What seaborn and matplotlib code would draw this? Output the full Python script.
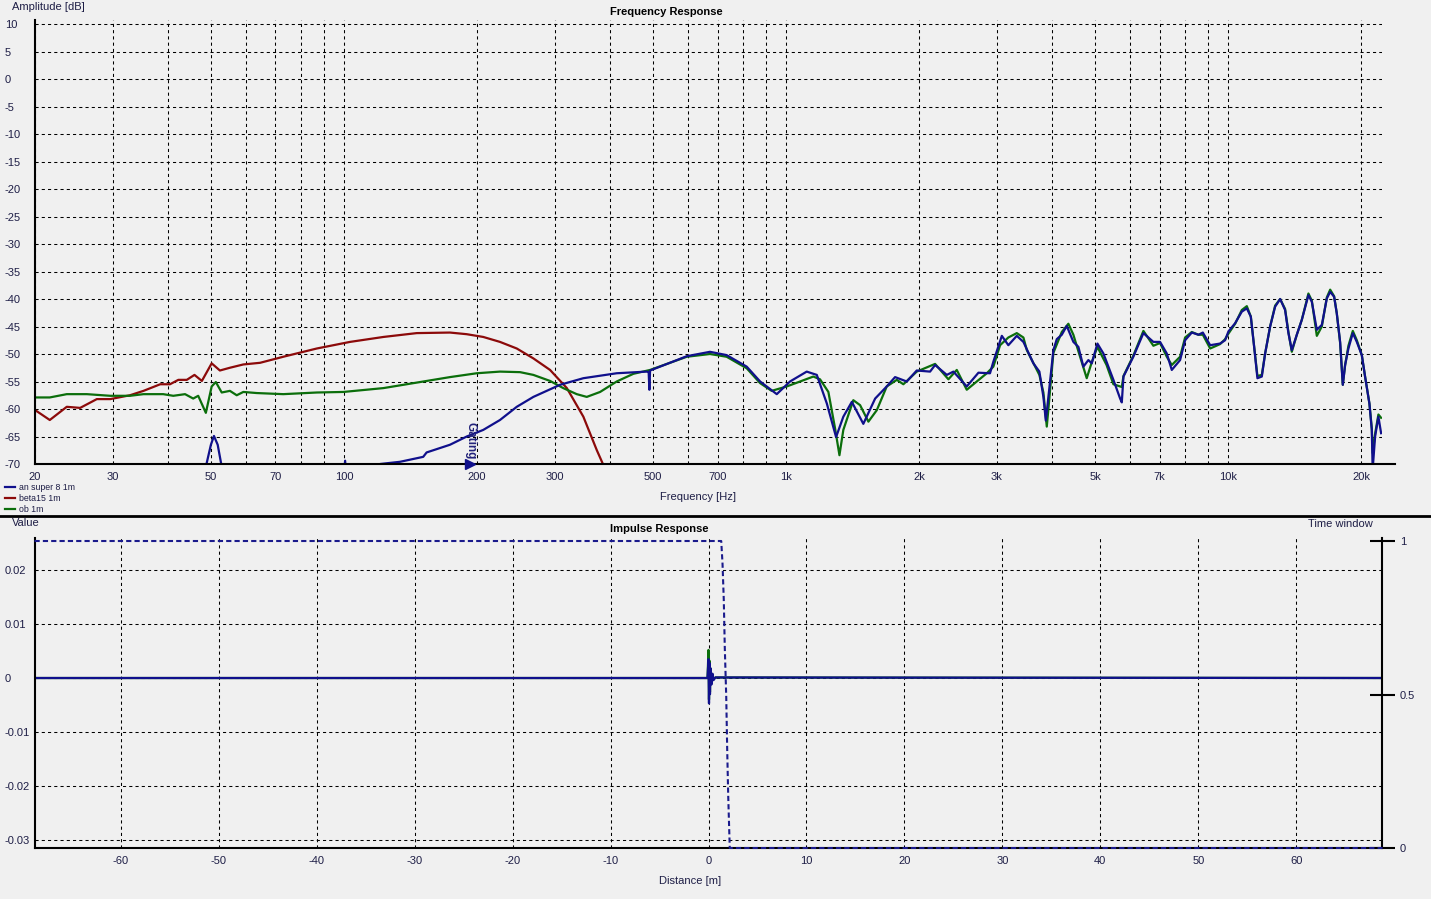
import numpy as np
import pandas as pd
import matplotlib
matplotlib.use("Agg")
import matplotlib.pyplot as plt
from matplotlib.lines import Line2D
import seaborn as sns

# ---- frequency response data (Hz, dB) ----
blue_freq = [20, 47.0, 48.7, 50.0, 50.8, 51.8, 52.9, 55, 98, 100.6, 103, 118, 120.7, 133.9, 151.1,
             153.8, 173.7, 189.6, 206.6, 225.4, 246, 268.2, 308.2, 348, 414, 484, 489, 490.8, 492.6,
             596.5, 673, 734, 815, 874, 953, 1021, 1114, 1174, 1237, 1298, 1348, 1409, 1496, 1591,
             1690, 1765, 1876, 1976, 2118, 2174, 2311, 2392, 2564, 2725, 2894, 2945, 3078, 3184,
             3327, 3444, 3628, 3743, 3822, 3870, 3923, 4026, 4098, 4206, 4316, 4468, 4586, 4707,
             4831, 4917, 5064, 5224, 5504, 5700, 5750, 5800, 6106, 6435, 6778, 7018, 7268, 7460,
             7790, 7996, 8280, 8572, 8770, 9112, 9594, 9848, 10020, 10376, 10744, 11028, 11260,
             11456, 11654, 11924, 12132, 12452, 12780, 13118, 13460, 13696, 13940, 14308, 14684,
             15200, 15472, 15880, 16300, 16730, 17024, 17378, 17620, 17930, 18182, 18402, 18722,
             19154, 19558, 20074, 20418, 20884, 21146, 21240, 21514, 21886, 22196]
blue_db = [-80, -80, -70.5, -66.5, -64.9, -66.5, -70.5, -80, -80, -69.4, -80, -80, -70.0, -69.6, -68.7,
           -67.9, -66.5, -65.0, -63.8, -62.0, -59.6, -57.8, -55.6, -54.4, -53.5, -53.2, -53.3, -56.5, -53.0,
           -50.4, -49.6, -50.2, -52.3, -55.0, -57.3, -55.0, -53.2, -53.8, -59.0, -65.1, -61.4, -58.7, -62.7, -58.1,
           -55.9, -54.2, -55.0, -53.0, -53.2, -52.0, -53.8, -53.2, -55.9, -53.4, -53.5, -51.4, -46.7, -48.4,
           -46.7, -47.8, -51.7, -53.2, -57.8, -62.1, -57.8, -49.3, -47.3, -46.5, -44.9, -47.8, -48.7, -52.3,
           -51.1, -51.7, -48.1, -49.9, -54.7, -58.1, -58.8, -54.1, -50.5, -46.2, -47.8, -47.8, -49.9, -52.9,
           -51.1, -47.5, -46.1, -46.5, -46.1, -48.4, -48.1, -47.5, -45.9, -44.4, -42.3, -41.7, -43.2,
           -48.7, -54.4, -54.1, -49.9, -45.0, -41.4, -40.0, -42.0, -46.2, -49.3, -46.5, -43.8,
           -39.3, -40.5, -45.6, -44.7, -39.9, -38.7, -39.6, -42.6, -47.8, -55.6, -52.0, -49.0,
           -46.2, -47.8, -50.2, -54.1, -59.0, -63.8, -71.0, -65.0, -61.4, -64.4]

red_freq = [20.1, 21.6, 23.6, 25.3, 27.6, 29.6, 32.8, 35.2, 38.4, 40.4, 42.2, 44.1, 45.9, 47.7, 50.2,
            52.4, 55.2, 59.2, 64.6, 72.9, 86.8, 103.2, 122.8, 146.1, 173.7, 189.6, 206.6, 225.4, 246,
            268.2, 292.6, 319.3, 348, 373.3, 386.3, 395]
red_db = [-60.3, -62.0, -59.6, -59.8, -58.2, -58.2, -57.5, -56.7, -55.5, -55.5, -54.7, -54.7, -53.8, -54.9, -51.7,
          -53.0, -52.5, -51.9, -51.6, -50.5, -49.0, -47.8, -46.9, -46.2, -46.1, -46.4, -46.9, -47.8, -49.0,
          -50.8, -52.9, -56.2, -61.4, -67.5, -70.2, -75]

green_freq = [20.1, 21.6, 23.6, 26.2, 29.6, 32.8, 35.2, 39.0, 41.1, 43.7, 45.6, 46.8, 48.7, 50.2, 51.3,
              52.9, 55.2, 57.2, 59.2, 63.5, 72.9, 86.8, 99.7, 122.8, 146.1, 173.7, 199.7, 225.4, 250.3,
              268.2, 292.6, 313.4, 336.2, 354.2, 379.7, 414, 451.6, 492.6, 596.5, 673, 734, 815, 874,
              928, 1004, 1076, 1153, 1194, 1247, 1291, 1321, 1348, 1420, 1471, 1536, 1605, 1690, 1781,
              1843, 1976, 2174, 2330, 2434, 2564, 2702, 2846, 2945, 3050, 3184, 3327, 3444, 3506, 3743,
              3822, 3890, 3923, 4026, 4206, 4353, 4468, 4586, 4790, 4917, 5064, 5311, 5504, 5750, 5800,
              6106, 6435, 6778, 7018, 7268, 7460, 7790, 7996, 8280, 8572, 8770, 9112, 9594, 9848, 10020,
              10376, 10744, 11028, 11260, 11456, 11654, 11924, 12132, 12452, 12780, 13118, 13460, 13696,
              13940, 14308, 14684, 15200, 15472, 15880, 16300, 16730, 17024, 17378, 17620, 17930, 18182,
              18402, 18722, 19154, 19558, 20074, 20418, 20884, 21146, 21240, 21514, 21886, 22196]
green_db = [-57.9, -57.9, -57.3, -57.3, -57.6, -57.6, -57.3, -57.3, -57.6, -57.3, -58.1, -57.6, -60.7, -55.9, -55.1,
            -57.0, -56.7, -57.5, -56.9, -57.1, -57.3, -57.0, -56.9, -56.2, -55.2, -54.2, -53.5, -53.2, -53.3,
            -53.8, -54.9, -56.2, -57.3, -57.8, -56.9, -55.0, -53.6, -52.9, -50.5, -50.0, -50.5, -52.6, -55.3,
            -56.7, -55.9, -55.0, -54.1, -54.6, -56.9, -63.5, -68.4, -63.8, -58.4, -59.3, -62.3, -60.2, -55.9, -54.7,
            -55.5, -53.2, -51.8, -54.6, -52.9, -56.5, -55.0, -53.5, -52.3, -48.4, -47.0, -46.2, -47.0, -49.3, -53.8,
            -57.0, -63.2, -60.0, -49.8, -46.0, -44.5, -46.5, -49.5, -54.4, -51.5, -48.7, -52.0, -55.5, -56.0, -54.0,
            -50.3, -45.8, -48.5, -48.0, -50.5, -52.0, -50.5, -47.0, -46.0, -46.5, -46.5, -49.0, -48.2, -47.3, -46.3,
            -44.5, -42.0, -41.3, -43.2, -48.7, -54.0, -53.8, -49.9, -45.0, -41.2, -40.0, -41.8, -46.0,
            -49.6, -46.5, -43.8, -39.0, -40.3, -46.7, -45.0, -39.7, -38.3, -39.5, -42.6, -48.0, -55.6,
            -52.0, -48.5, -45.8, -47.5, -50.2, -54.1, -59.0, -63.5, -68.0, -64.5, -61.0, -61.6]

series_names = ["an super 8 1m", "beta15 1m", "ob 1m"]
gating_freq = 193

freq_ticks = [20, 30, 50, 70, 100, 200, 300, 500, 700, 1000, 2000, 3000, 5000, 7000, 10000, 20000]
freq_labels = ["20", "30", "50", "70", "100", "200", "300", "500", "700", "1k", "2k", "3k", "5k", "7k", "10k", "20k"]
freq_grid = [m * d for d in (10, 100, 1000) for m in range(2, 10)] + [10000, 20000]

# ---- impulse response data (m, value) ----
imp_dist = [-68.8, -0.1, 0.0, 0.05, 0.1, 0.15, 0.2, 0.3, 0.4, 0.5, 0.7, 68.8]
imp_blue = [0, 0, 0.0035, -0.0047, 0.0028, -0.0030, 0.0018, -0.0012, 0.0008, -0.0004, 0.0001, 0]
imp_green = [0, 0, 0.0052, -0.0040, 0.0032, -0.0026, 0.0018, -0.0010, 0.0007, -0.0003, 0.0001, 0]

window_dist = [-68.8, 1.30, 1.43, 1.56, 1.66, 1.81, 1.91, 2.01, 2.11, 2.17, 68.8]
window_val = [1.0, 1.0, 0.927, 0.808, 0.656, 0.493, 0.319, 0.173, 0.064, 0.0, 0.0]

BLUE = "#10108c"
RED = "#8c0a0a"
GREEN = "#0b6e0b"
TXT = "#1e1e46"
BG = "#f0f0f0"

plt.rcParams["font.family"] = ["Liberation Sans", "DejaVu Sans"]
plt.rcParams["font.size"] = 8
plt.rcParams["axes.linewidth"] = 1.5
plt.rcParams["axes.unicode_minus"] = False

W, H = 1431, 899
fig = plt.figure(figsize=(W / 100, H / 100), dpi=100, facecolor=BG)

grid_kw = dict(color="black", linestyle=(0, (3, 3)), linewidth=0.75)

# ---------------- frequency response ----------------
ax = fig.add_axes([35 / W, 1 - 464 / H, 1347 / W, 444 / H], facecolor=BG)
df_red = pd.DataFrame({"f": red_freq, "db": red_db})
df_green = pd.DataFrame({"f": green_freq, "db": green_db})
df_blue = pd.DataFrame({"f": blue_freq, "db": blue_db})
sns.lineplot(data=df_red, x="f", y="db", ax=ax, color=RED, linewidth=1.6, sort=False, estimator=None)
sns.lineplot(data=df_green, x="f", y="db", ax=ax, color=GREEN, linewidth=1.6, sort=False, estimator=None)
sns.lineplot(data=df_blue, x="f", y="db", ax=ax, color=BLUE, linewidth=1.6, sort=False, estimator=None)
line_red, line_green, line_blue = ax.lines[:3]

ax.set_xscale("log")
ax.set_xlim(20, 22300)
ax.set_ylim(-70, 10.73)
ax.set_xticks(freq_ticks)
ax.set_xticklabels(freq_labels)
ax.set_xticks(freq_grid, minor=True)
ax.set_yticks(range(-70, 11, 5))
ax.set_yticklabels([str(v) for v in range(-70, 11, 5)])
ax.xaxis.grid(True, which="both", **grid_kw)
ax.yaxis.grid(True, **grid_kw)
ax.tick_params(axis="x", which="both", length=0, pad=5.5, labelcolor=TXT, labelsize=8)
ax.tick_params(axis="y", length=0, pad=21.6, labelcolor=TXT, labelsize=8)
for t in ax.get_yticklabels():
    t.set_horizontalalignment("left")
ax.set_xlabel("")
ax.set_ylabel("")
for s in ("top", "right"):
    ax.spines[s].set_visible(False)
ax.spines["bottom"].set_bounds(20, 23900)

# gating marker
ax.plot([gating_freq], [-70], marker=">", markersize=7, color=BLUE, clip_on=False, zorder=5)
ax.text(gating_freq, -65.7, "Gating", rotation=-90, ha="center", va="center",
        fontsize=8.5, color="#22227a", fontweight="bold")

fig.legend([line_blue, line_red, line_green], series_names, loc="upper left",
           bbox_to_anchor=(5 / W, 1 - 483 / H), frameon=False, fontsize=6.3,
           handlelength=1.15, handletextpad=0.45, labelspacing=0.22, borderpad=0,
           borderaxespad=0, labelcolor=TXT)

# ---------------- impulse response ----------------
ax2 = fig.add_axes([35 / W, 1 - 848 / H, 1347 / W, 310 / H], facecolor=BG)
df_ig = pd.DataFrame({"d": imp_dist, "v": imp_green})
df_ib = pd.DataFrame({"d": imp_dist, "v": imp_blue})
sns.lineplot(data=df_ig, x="d", y="v", ax=ax2, color=GREEN, linewidth=1.6, sort=False, estimator=None)
sns.lineplot(data=df_ib, x="d", y="v", ax=ax2, color=BLUE, linewidth=1.6, sort=False, estimator=None)
ax2.set_xlim(-68.75, 68.75)
ax2.set_ylim(-0.03148, 0.02593)
ax2.set_xticks(range(-60, 61, 10))
ax2.set_yticks([0.02, 0.01, 0, -0.01, -0.02, -0.03])
ax2.set_yticklabels(["0.02", "0.01", "0", "-0.01", "-0.02", "-0.03"])
ax2.grid(True, **grid_kw)
ax2.tick_params(axis="x", length=0, pad=5.5, labelcolor=TXT, labelsize=8)
ax2.tick_params(axis="y", length=0, pad=21.6, labelcolor=TXT, labelsize=8)
for t in ax2.get_yticklabels():
    t.set_horizontalalignment("left")
ax2.set_xlabel("")
ax2.set_ylabel("")
for s in ("top", "right"):
    ax2.spines[s].set_visible(False)

ax3 = ax2.twinx()
ax3.patch.set_visible(False)
df_w = pd.DataFrame({"d": window_dist, "w": window_val})
sns.lineplot(data=df_w, x="d", y="w", ax=ax3, color="#1a1a8c", linewidth=1.5,
             linestyle=(0, (2.5, 1.5)), sort=False, estimator=None)
for ln in ax3.lines:
    ln.set_clip_on(False)
    ln.set_zorder(6)
ax3.set_xlim(-68.75, 68.75)
ax3.set_ylim(0, 1.0098)
ax3.set_yticks([0, 0.5, 1])
ax3.set_yticklabels(["0", "0.5", "1"])
ax3.tick_params(axis="y", direction="inout", length=18, width=1.5, pad=4, labelcolor=TXT, labelsize=8)
ax3.set_ylabel("")
for s in ("top", "left", "bottom"):
    ax3.spines[s].set_visible(False)
ax3.spines["right"].set_linewidth(1.5)

# separator between the two panels
fig.add_artist(Line2D([0, 1], [1 - 515.5 / H] * 2, transform=fig.transFigure, color="black", linewidth=2))

# ---------------- titles / axis captions ----------------
fig.text(12 / W, 1 - 7 / H, "Amplitude [dB]", ha="left", va="center", fontsize=8, color=TXT)
fig.text(666 / W, 1 - 12 / H, "Frequency Response", ha="center", va="center", fontsize=8,
         fontweight="bold", color="black")
fig.text(698 / W, 1 - 497 / H, "Frequency [Hz]", ha="center", va="center", fontsize=8, color=TXT)
fig.text(12 / W, 1 - 523 / H, "Value", ha="left", va="center", fontsize=8, color=TXT)
fig.text(659 / W, 1 - 529 / H, "Impulse Response", ha="center", va="center", fontsize=8,
         fontweight="bold", color="black")
fig.text(1308 / W, 1 - 524 / H, "Time window", ha="left", va="center", fontsize=8, color=TXT)
fig.text(690 / W, 1 - 881 / H, "Distance [m]", ha="center", va="center", fontsize=8, color=TXT)

fig.savefig("out.png", dpi=100, facecolor=BG)
